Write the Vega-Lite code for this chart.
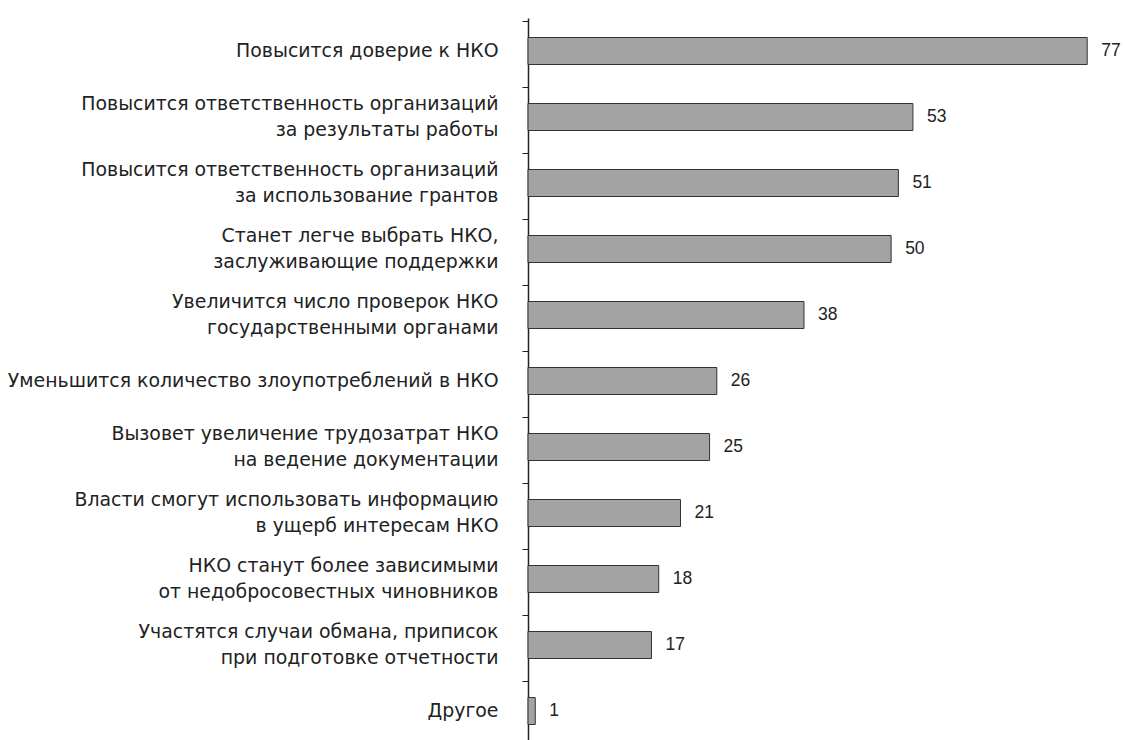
{
  "$schema": "https://vega.github.io/schema/vega-lite/v6.json",
  "autosize": "none",
  "width": 581,
  "height": 722,
  "padding": {"left": 528, "top": 18, "right": 17, "bottom": 0},
  "background": "white",
  "data": {
    "values": [
      {"label": "Повысится доверие к НКО ", "value": 77},
      {"label": "Повысится ответственность организаций|за результаты работы", "value": 53},
      {"label": "Повысится ответственность организаций |за использование грантов", "value": 51},
      {"label": "Станет легче выбрать НКО,|заслуживающие поддержки", "value": 50},
      {"label": "Увеличится число проверок НКО |государственными органами", "value": 38},
      {"label": "Уменьшится количество злоупотреблений в НКО", "value": 26},
      {"label": "Вызовет увеличение трудозатрат НКО|на ведение документации", "value": 25},
      {"label": "Власти смогут использовать информацию|в ущерб интересам НКО", "value": 21},
      {"label": "НКО станут более зависимыми|от недобросовестных чиновников", "value": 18},
      {"label": "Участятся случаи обмана, приписок|при подготовке отчетности ", "value": 17},
      {"label": "Другое", "value": 1}
    ]
  },
  "encoding": {
    "y": {
      "field": "label",
      "type": "nominal",
      "sort": null,
      "title": null,
      "scale": {"range": [0, 726]},
      "axis": {
        "bandPosition": 0,
        "labelOffset": {"condition": {"test": "indexof(datum.value, '|') >= 0", "value": -13}, "value": 0},
        "labelExpr": "split(datum.label, '|')",
        "labelFont": "DejaVu Sans",
        "labelFontSize": 18.9,
        "labelColor": "#222",
        "labelLineHeight": 26,
        "labelLimit": 600,
        "labelPadding": 24,
        "labelAlign": "right",
        "labelBaseline": "middle",
        "tickSize": 6,
        "tickColor": "#222",
        "tickWidth": 1,
        "domainColor": "#222",
        "domainWidth": 1.5,
        "grid": false
      }
    },
    "x": {
      "field": "value",
      "type": "quantitative",
      "scale": {"domain": [0, 80], "nice": false},
      "axis": null
    }
  },
  "layer": [
    {
      "mark": {"type": "bar", "size": 27, "fill": "#a3a3a3", "stroke": "#333", "strokeWidth": 1}
    },
    {
      "mark": {"type": "text", "align": "left", "baseline": "middle", "dx": 14, "font": "Liberation Sans", "fontSize": 17.5, "color": "#222"},
      "encoding": {"text": {"field": "value", "type": "quantitative"}}
    }
  ],
  "config": {"view": {"stroke": null}}
}
